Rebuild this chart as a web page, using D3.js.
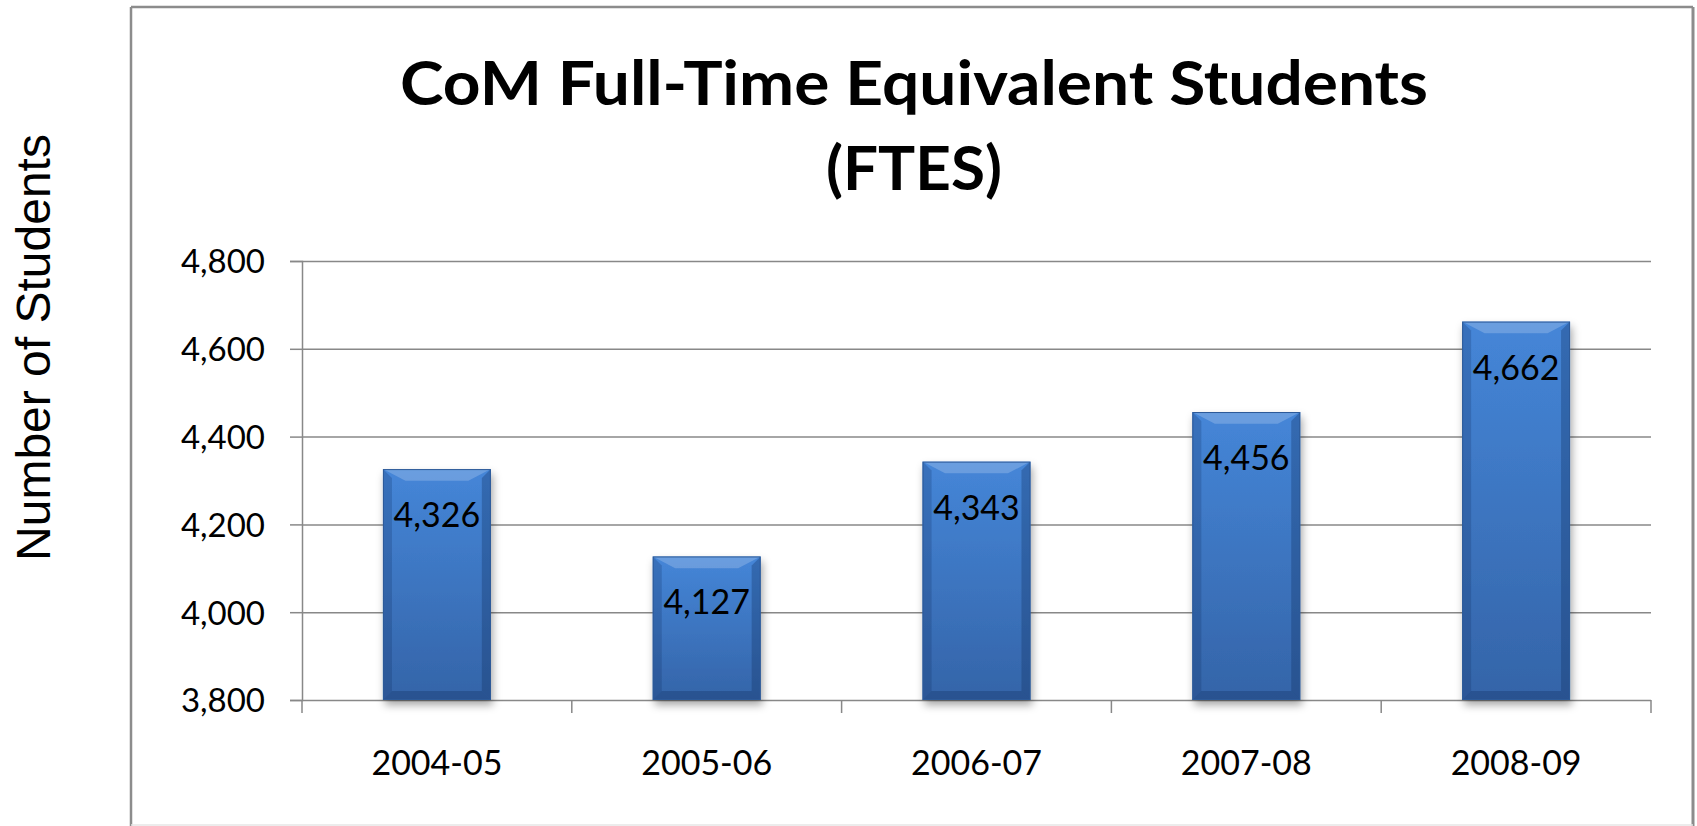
<!DOCTYPE html>
<html>
<head>
<meta charset="utf-8">
<script src="https://cdn.jsdelivr.net/npm/d3@7"></script>
<style>
  html, body { margin: 0; padding: 0; background: #fff; }
  svg { display: block; }
</style>
</head>
<body>
<svg id="chart" width="1697" height="826"></svg>
<script>
// ---- data ----
const categories = ["2004-05", "2005-06", "2006-07", "2007-08", "2008-09"];
const values = [4326, 4127, 4343, 4456, 4662];
const yTicks = [3800, 4000, 4200, 4400, 4600, 4800];
const titleLines = ["CoM Full-Time Equivalent Students", "(FTES)"];
const yAxisTitle = "Number of Students";

// ---- layout ----
const W = 1697, H = 826;
const plot = { left: 302, right: 1651, top: 261, bottom: 700 };
const svg = d3.select("#chart");
const font = "Lato, 'Open Sans', sans-serif";

const x = d3.scaleBand().domain(categories).range([plot.left, plot.right]).padding(0);
const y = d3.scaleLinear().domain([3800, 4800]).range([plot.bottom, plot.top]);
const barW = x.bandwidth() * 0.4;

// defs
const defs = svg.append("defs");
const g1 = defs.append("linearGradient").attr("id", "barGrad").attr("x1", 0).attr("y1", 0).attr("x2", 0).attr("y2", 1);
g1.append("stop").attr("offset", "0%").attr("stop-color", "#4586d8");
g1.append("stop").attr("offset", "100%").attr("stop-color", "#3464a8");
const f = defs.append("filter").attr("id", "shadow").attr("x", "-20%").attr("y", "-10%").attr("width", "150%").attr("height", "130%");
f.append("feDropShadow").attr("dx", 2).attr("dy", 5).attr("stdDeviation", 4).attr("flood-color", "#000").attr("flood-opacity", 0.35);

// frame
svg.append("rect").attr("x", 131).attr("y", 7).attr("width", 1562).attr("height", 818)
  .attr("fill", "#fff").attr("stroke", "none");
svg.append("line").attr("x1", 131).attr("x2", 131).attr("y1", 7).attr("y2", 826).attr("stroke", "#8c8c8c").attr("stroke-width", 2.5);
svg.append("line").attr("x1", 131).attr("x2", 1693).attr("y1", 7).attr("y2", 7).attr("stroke", "#8c8c8c").attr("stroke-width", 2.5);
svg.append("line").attr("x1", 1693).attr("x2", 1693).attr("y1", 7).attr("y2", 826).attr("stroke", "#8c8c8c").attr("stroke-width", 3);
svg.append("line").attr("x1", 131).attr("x2", 1693).attr("y1", 825).attr("y2", 825).attr("stroke", "#e6e6e6").attr("stroke-width", 1.5);

// title
const titleTargets = [{ w: 1028, base: 105 }, { w: 176, base: 190 }];
titleLines.forEach((t, i) => {
  svg.append("text").attr("x", 914).attr("y", titleTargets[i].base)
    .attr("text-anchor", "middle").attr("font-family", font).attr("font-weight", 700)
    .attr("font-size", 62).attr("fill", "#000")
    .attr("textLength", titleTargets[i].w).attr("lengthAdjust", "spacingAndGlyphs")
    .text(t);
});

// y axis title
svg.append("text").attr("transform", "translate(50,347.5) rotate(-90)")
  .attr("text-anchor", "middle").attr("font-family", "'Liberation Sans', Arial, sans-serif")
  .attr("font-size", 48).attr("fill", "#000").text(yAxisTitle);

// gridlines + y axis
const yAxis = d3.axisLeft(y).tickValues(yTicks).tickSize(12).tickPadding(25).tickFormat(d3.format(","));
const gy = svg.append("g").attr("transform", `translate(${plot.left},0)`).call(yAxis);
gy.select(".domain").attr("stroke", "#888").attr("stroke-width", 1.5);
gy.selectAll(".tick line").attr("stroke", "#888").attr("stroke-width", 1.5);
gy.selectAll(".tick text").attr("font-family", font).attr("font-size", 33).attr("fill", "#000").attr("dy", "0.36em");
gy.selectAll(".tick").append("line").attr("x1", 0).attr("x2", plot.right - plot.left)
  .attr("stroke", "#888").attr("stroke-width", 1.5);

// x axis
const xAxis = d3.axisBottom(x).tickSize(0).tickPadding(0);
const gx = svg.append("g").attr("transform", `translate(0,${plot.bottom})`).call(xAxis);
gx.select(".domain").remove();
gx.selectAll(".tick text").attr("font-family", font).attr("font-size", 34).attr("fill", "#000")
  .attr("dy", 0).attr("y", 75);
const bounds = categories.map(c => x(c)).concat([plot.right]);
gx.selectAll(".sep").data(bounds).enter().append("line").attr("class", "sep")
  .attr("x1", d => d).attr("x2", d => d).attr("y1", 0).attr("y2", 13)
  .attr("stroke", "#888").attr("stroke-width", 1.5);

// bars
const data = categories.map((c, i) => ({ c, v: values[i] }));
const bev = 9;
const bars = svg.append("g").selectAll("g.bar").data(data).enter().append("g").attr("class", "bar");
bars.append("rect")
  .attr("x", d => x(d.c) + (x.bandwidth() - barW) / 2)
  .attr("y", d => y(d.v)).attr("width", barW).attr("height", d => y(3800) - y(d.v))
  .attr("fill", "url(#barGrad)").attr("filter", "url(#shadow)");
// bevels
bars.append("path").attr("fill", "#ffffff").attr("opacity", 0.2).attr("d", d => {
  const x0 = x(d.c) + (x.bandwidth() - barW) / 2, y0 = y(d.v), x1 = x0 + barW;
  return `M${x0},${y0}L${x1},${y0}L${x1 - bev * 2.5},${y0 + bev * 1.3}L${x0 + bev * 2.5},${y0 + bev * 1.3}Z`;
});
bars.append("path").attr("fill", "#0c2a5a").attr("opacity", 0.22).attr("d", d => {
  const x0 = x(d.c) + (x.bandwidth() - barW) / 2, y0 = y(d.v), y1 = y(3800);
  return `M${x0},${y0}L${x0 + bev},${y0 + bev}L${x0 + bev},${y1 - bev}L${x0},${y1}Z`;
});
bars.append("path").attr("fill", "#0c2a5a").attr("opacity", 0.3).attr("d", d => {
  const x0 = x(d.c) + (x.bandwidth() - barW) / 2, x1 = x0 + barW, y0 = y(d.v), y1 = y(3800);
  return `M${x1},${y0}L${x1 - bev},${y0 + bev}L${x1 - bev},${y1 - bev}L${x1},${y1}Z`;
});
bars.append("path").attr("fill", "#0c2a5a").attr("opacity", 0.3).attr("d", d => {
  const x0 = x(d.c) + (x.bandwidth() - barW) / 2, x1 = x0 + barW, y1 = y(3800);
  return `M${x0},${y1}L${x1},${y1}L${x1 - bev},${y1 - bev}L${x0 + bev},${y1 - bev}Z`;
});
bars.append("rect")
  .attr("x", d => x(d.c) + (x.bandwidth() - barW) / 2 + 0.5)
  .attr("y", d => y(d.v) + 0.5).attr("width", barW - 1).attr("height", d => y(3800) - y(d.v) - 1)
  .attr("fill", "none").attr("stroke", "#2d5a98").attr("stroke-width", 1);

// value labels
bars.append("text")
  .attr("x", d => x(d.c) + x.bandwidth() / 2)
  .attr("y", d => y(d.v) + 58)
  .attr("text-anchor", "middle").attr("font-family", font).attr("font-size", 34).attr("fill", "#000")
  .text(d => d3.format(",")(d.v));
</script>
</body>
</html>
